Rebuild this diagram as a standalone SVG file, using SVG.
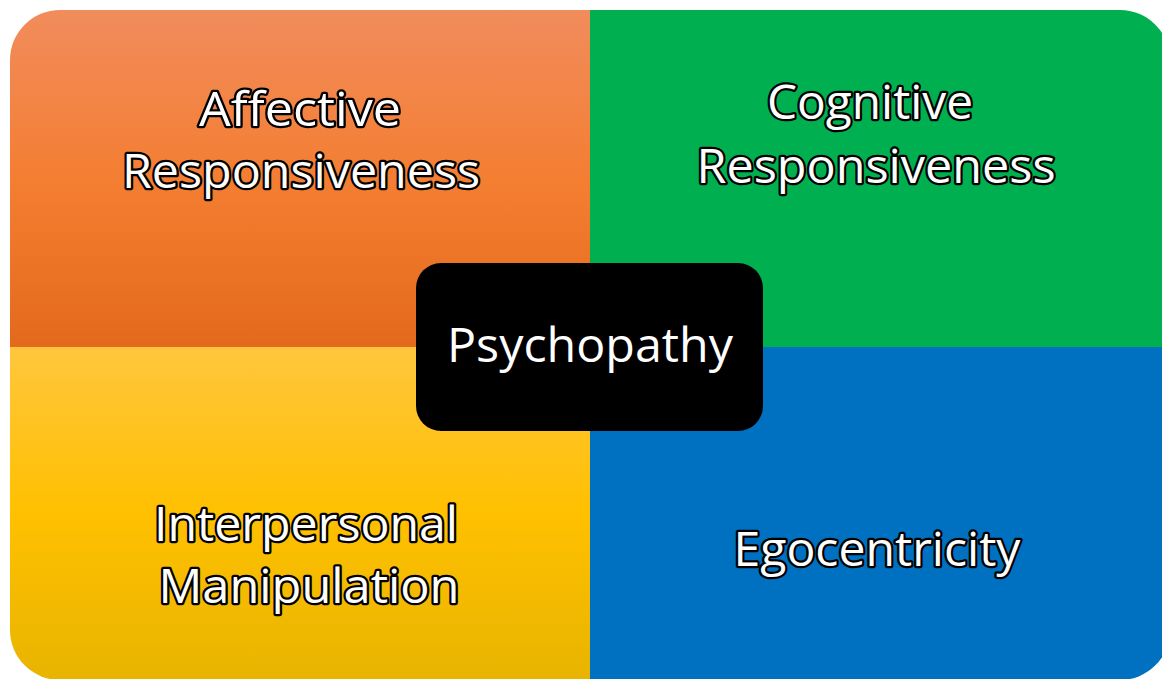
<svg xmlns="http://www.w3.org/2000/svg" width="1162" height="679" viewBox="0 0 1162 679">
  <defs>
    <linearGradient id="gOrange" x1="0" y1="0" x2="0" y2="1">
      <stop offset="0" stop-color="#F18C5C"/>
      <stop offset="0.5" stop-color="#F47E32"/>
      <stop offset="1" stop-color="#E36A1C"/>
    </linearGradient>
    <linearGradient id="gYellow" x1="0" y1="0" x2="0" y2="1">
      <stop offset="0" stop-color="#FFC63D"/>
      <stop offset="0.5" stop-color="#FFC000"/>
      <stop offset="1" stop-color="#E8B400"/>
    </linearGradient>
    <clipPath id="outer">
      <rect x="10" y="10" width="1160" height="670" rx="50" ry="50"/>
    </clipPath>
    <style>
      .lbl { font-family: "Open Sans", "Noto Sans", sans-serif; font-size: 47px; font-weight: 500; fill: #FFFFFF; stroke: #000000; stroke-width: 4.5; stroke-linejoin: round; paint-order: stroke; text-anchor: middle; }
      .ctr { font-family: "Open Sans", "Noto Sans", sans-serif; font-size: 47px; fill: #FFFFFF; text-anchor: middle; }
    </style>
  </defs>
  <rect width="1162" height="679" fill="#FFFFFF"/>
  <g clip-path="url(#outer)">
    <g id="affective">
      <rect x="10" y="10" width="580" height="337" fill="url(#gOrange)"/>
      <text class="lbl" x="300" y="126" textLength="202" lengthAdjust="spacingAndGlyphs">Affective</text>
      <text class="lbl" x="301" y="188" textLength="358" lengthAdjust="spacingAndGlyphs">Responsiveness</text>
    </g>
    <g id="cognitive">
      <rect x="590" y="10" width="580" height="337" fill="#00B050"/>
      <text class="lbl" x="870" y="119" textLength="206" lengthAdjust="spacingAndGlyphs">Cognitive</text>
      <text class="lbl" x="876" y="183" textLength="359" lengthAdjust="spacingAndGlyphs">Responsiveness</text>
    </g>
    <g id="interpersonal">
      <rect x="10" y="347" width="580" height="333" fill="url(#gYellow)"/>
      <text class="lbl" x="306" y="541" textLength="304" lengthAdjust="spacingAndGlyphs">Interpersonal</text>
      <text class="lbl" x="309" y="603" textLength="301" lengthAdjust="spacingAndGlyphs">Manipulation</text>
    </g>
    <g id="egocentricity">
      <rect x="590" y="347" width="580" height="333" fill="#0070C0"/>
      <text class="lbl" x="877" y="566" textLength="287" lengthAdjust="spacingAndGlyphs">Egocentricity</text>
    </g>
  </g>
  <g id="psychopathy">
    <rect x="416" y="263" width="347" height="168" rx="25" ry="25" fill="#000000"/>
    <text class="ctr" x="590" y="362" textLength="286" lengthAdjust="spacingAndGlyphs">Psychopathy</text>
  </g>
  <g id="connectors"/>
</svg>
